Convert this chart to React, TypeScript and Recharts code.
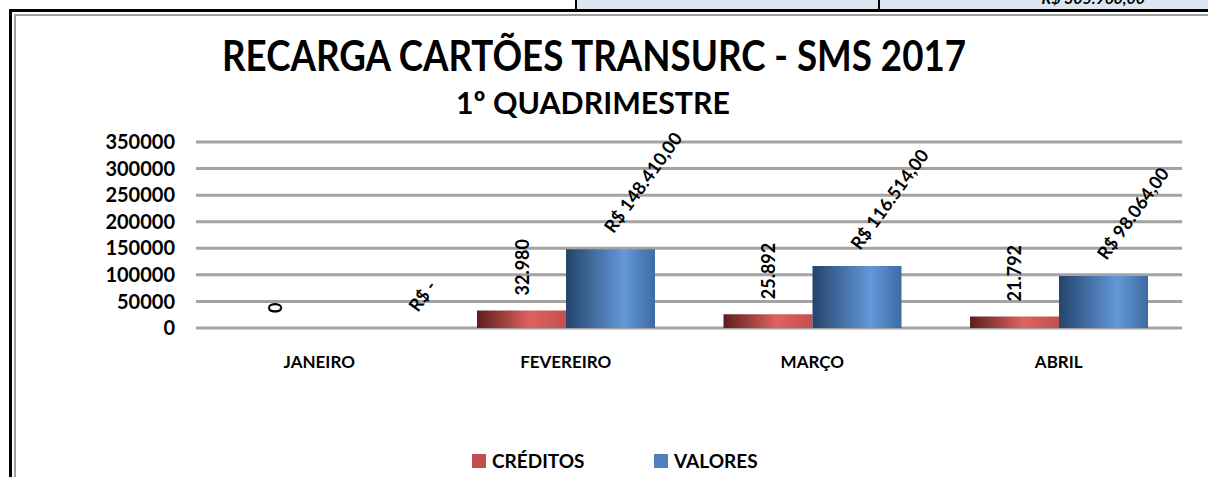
import { BarChart, Bar, XAxis, YAxis, CartesianGrid, LabelList } from "recharts";

const months = ["JANEIRO", "FEVEREIRO", "MARÇO", "ABRIL"];
const creditos = [0, 32980, 25892, 21792];
const valores = [0, 148410, 116514, 98064];
const yTicks = [0, 50000, 100000, 150000, 200000, 250000, 300000, 350000];

const series = [
  { key: "creditos", name: "CRÉDITOS", color: "#c0504d" },
  { key: "valores", name: "VALORES", color: "#4f81bd" },
];

const data = months.map((mes, i) => ({
  mes,
  creditos: creditos[i],
  valores: valores[i],
}));

const font = "Lato, 'Open Sans', sans-serif";

// 32980 -> "32.980"
const milhar = (v: number) =>
  String(Math.round(v)).replace(/\B(?=(\d{3})+(?!\d))/g, ".");

const CreditoLabel = (props: any) => {
  const { x, y, width, value } = props;
  const cx = x + width / 2;
  const ty = y - 15;
  return (
    <text
      x={cx}
      y={ty}
      transform={`rotate(-90 ${cx} ${ty})`}
      textAnchor="start"
      dominantBaseline="central"
      fontFamily={font}
      fontWeight={700}
      fontSize={18}
      fill="#000"
    >
      {milhar(value)}
    </text>
  );
};

const ValorLabel = (props: any) => {
  const { x, y, width, value } = props;
  const zero = value === 0;
  // excel pads the "R$ -" accounting label, so it sits further right
  const sx = x + width / 2 + (zero ? 54 : 3);
  const sy = y - 15;
  return (
    <text
      x={sx}
      y={sy}
      transform={`rotate(-54 ${sx} ${sy})`}
      textAnchor="start"
      fontFamily={font}
      fontWeight={700}
      fontSize={18}
      fill="#000"
    >
      {zero ? "R$ -" : `R$ ${milhar(value)},00`}
    </text>
  );
};

const Frame = () => (
  <svg
    width={1208}
    height={477}
    style={{ position: "absolute", left: 0, top: 0 }}
  >
    <rect x={576} y={0} width={632} height={9} fill="#dce6f1" />
    <rect x={575} y={0} width={2} height={9} fill="#000" />
    <rect x={878} y={0} width={2} height={9} fill="#000" />
    <text
      x={1145}
      y={4}
      textAnchor="end"
      fontFamily={font}
      fontWeight={700}
      fontStyle="italic"
      fontSize={16}
    >
      R$ 305.960,00
    </text>
    <rect x={9} y={9} width={1199} height={3} fill="#000" />
    <rect x={9} y={9} width={3} height={468} fill="#000" />
    <rect x={14} y={14} width={1194} height={2} fill="#a0a0a0" />
    <rect x={14} y={14} width={2} height={463} fill="#a0a0a0" />
    <text
      x={594}
      y={71}
      textAnchor="middle"
      textLength={744}
      lengthAdjust="spacingAndGlyphs"
      fontFamily={font}
      fontWeight={700}
      fontSize={42}
    >
      RECARGA CARTÕES TRANSURC - SMS 2017
    </text>
    <text
      x={593}
      y={114}
      textAnchor="middle"
      textLength={274}
      lengthAdjust="spacingAndGlyphs"
      fontFamily={font}
      fontWeight={700}
      fontSize={31}
    >
      1º QUADRIMESTRE
    </text>
  </svg>
);

export default function App() {
  return (
    <div
      style={{
        position: "absolute",
        left: 0,
        top: 0,
        width: 1208,
        height: 477,
        overflow: "hidden",
        background: "#fff",
      }}
    >
      <Frame />
      <div style={{ position: "absolute", left: 0, top: 0 }}>
        <BarChart
          width={1208}
          height={400}
          data={data}
          margin={{ top: 142, right: 26, left: 136, bottom: 42 }}
          barGap={0}
          barCategoryGap="14%"
        >
          <defs>
            <linearGradient id="gradRed" x1="0" y1="0" x2="1" y2="0">
              <stop offset="0%" stopColor="#5c1f1e" />
              <stop offset="60%" stopColor="#e0625f" />
              <stop offset="100%" stopColor="#c24f4c" />
            </linearGradient>
            <linearGradient id="gradBlue" x1="0" y1="0" x2="1" y2="0">
              <stop offset="0%" stopColor="#25446b" />
              <stop offset="65%" stopColor="#6398da" />
              <stop offset="100%" stopColor="#3e6ba3" />
            </linearGradient>
          </defs>
          <CartesianGrid vertical={false} stroke="#a3a3a3" strokeWidth={3} />
          <XAxis
            dataKey="mes"
            axisLine={false}
            tickLine={false}
            tickSize={6}
            tickMargin={22}
            height={30}
            interval={0}
            tick={{ fontFamily: font, fontWeight: 700, fontSize: 17, fill: "#000" }}
          />
          <YAxis
            domain={[0, 350000]}
            ticks={yTicks}
            axisLine={false}
            tickLine={false}
            tickSize={6}
            tickMargin={15}
            width={60}
            interval={0}
            tick={{ fontFamily: font, fontWeight: 700, fontSize: 20, fill: "#000" }}
          />
          <Bar
            dataKey="creditos"
            name={series[0].name}
            fill="url(#gradRed)"
            minPointSize={0.01}
            isAnimationActive={false}
          >
            <LabelList dataKey="creditos" content={CreditoLabel} />
          </Bar>
          <Bar
            dataKey="valores"
            name={series[1].name}
            fill="url(#gradBlue)"
            minPointSize={0.01}
            isAnimationActive={false}
          >
            <LabelList dataKey="valores" content={ValorLabel} />
          </Bar>
        </BarChart>
      </div>
      <div
        style={{
          position: "absolute",
          top: 449,
          left: 472,
          display: "flex",
          fontFamily: font,
          fontWeight: 700,
          fontSize: 19,
          color: "#000",
        }}
      >
        {series.map((s, i) => (
          <div
            key={s.key}
            style={{
              display: "flex",
              alignItems: "center",
              width: i === 0 ? 182 : undefined,
            }}
          >
            <span
              style={{
                width: 14,
                height: 14,
                background: s.color,
                display: "inline-block",
                marginRight: 6,
              }}
            />
            <span>{s.name}</span>
          </div>
        ))}
      </div>
    </div>
  );
}
